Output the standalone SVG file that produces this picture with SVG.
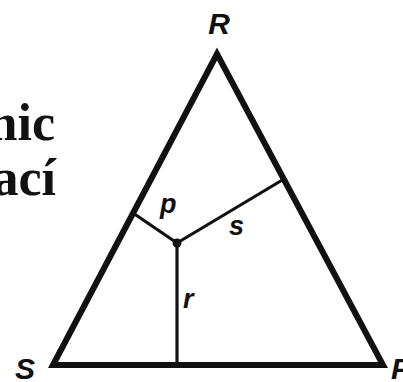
<svg xmlns="http://www.w3.org/2000/svg" width="403" height="382" viewBox="0 0 403 382">
<style>
.side{fill:none;stroke:#111;stroke-width:6;stroke-linejoin:miter;stroke-miterlimit:10}
.inner{stroke:#111;stroke-width:3.2;fill:none}
.lab{font-family:"Liberation Sans",Arial,sans-serif;font-weight:bold;font-style:italic;fill:#111}
.big{font-family:"Liberation Serif","Times New Roman",serif;font-weight:bold;font-size:52px;fill:#111}
</style>
<rect width="403" height="382" fill="#fff"/>
<g id="title-text">
<text class="big" x="55" y="140" text-anchor="end">mic</text>
<text class="big" x="56" y="195" text-anchor="end">ací</text>
</g>
<g id="triangle">
<polygon class="side" points="53,365 217,54 383,365"/>
</g>
<g id="connectors">
<line class="inner" x1="177" y1="243" x2="133" y2="213"/>
<line class="inner" x1="177" y1="243" x2="284" y2="179"/>
<line class="inner" x1="177" y1="243" x2="177" y2="365"/>
</g>
<g id="center">
<circle cx="177" cy="243" r="4.5" fill="#111"/>
</g>
<g id="labels">
<text class="lab" x="219" y="34" font-size="30" text-anchor="middle">R</text>
<text class="lab" x="25" y="379" font-size="30" text-anchor="middle">S</text>
<text class="lab" x="391" y="379" font-size="30">P</text>
<text class="lab" x="160" y="213" font-size="27">p</text>
<text class="lab" x="229" y="235" font-size="27">s</text>
<text class="lab" x="183" y="308" font-size="27">r</text>
</g>
</svg>
